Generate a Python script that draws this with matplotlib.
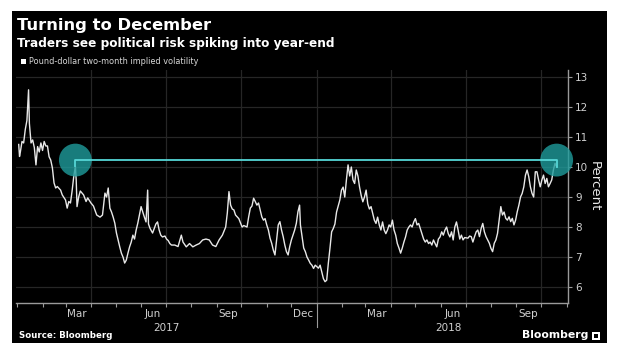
import matplotlib
matplotlib.use("Agg")
import matplotlib.pyplot as plt
import matplotlib.dates as mdates
import matplotlib.transforms as mtransforms
from matplotlib.patches import Rectangle
import pandas as pd
import numpy as np

# ---------------- data ----------------
# days since 2017-01-01
days = [2, 3, 4, 6, 8, 10, 12, 14, 15, 17, 19, 21, 23, 25, 27, 29, 31, 33, 35, 37, 39, 41, 43, 45, 47, 49,
        53, 55, 59, 61, 63, 65, 67, 69, 71, 72, 73, 75, 77, 81, 84, 86, 90,
        93, 97, 101, 104, 107, 109, 111, 113, 115, 117, 119, 121, 123, 125, 127, 129, 131, 133, 135, 137,
        139, 141, 143, 145, 147, 149, 151, 153, 155, 157, 159, 160, 162, 165, 167, 169, 171, 173, 175, 177,
        180, 182, 184, 186, 188, 192, 196, 200, 202, 206, 210, 214, 218, 222, 226, 230, 234, 238, 242, 246,
        250, 254, 256, 258, 260, 262, 264, 266, 270, 274,
        276, 280, 282, 284, 286, 288, 290, 292, 294, 296, 298, 300, 302, 304, 306, 308, 310, 312, 314, 316,
        318, 320, 322, 324, 326, 328, 330, 332, 334, 336, 338, 340, 342, 344, 345, 347, 349, 351, 353, 355,
        357, 359, 361, 363, 365, 367, 369,
        371, 373, 375, 377, 379, 381, 383, 385, 387, 389, 391, 393, 395, 397, 399, 401, 403, 405, 407, 409,
        411, 413, 415, 417, 419, 421, 423, 425, 427, 429, 431, 433, 435, 437, 439, 441, 443, 445, 447, 449,
        451, 453, 455, 457, 459, 461, 463, 465, 467, 469, 471, 473, 475, 477, 479, 481, 483, 485, 487, 489,
        491, 493, 495, 497, 499, 501, 503, 505, 507, 509, 511, 513, 515, 517, 519, 521, 523, 525, 527, 529,
        531, 533, 535, 537, 539, 541, 543, 545, 549, 551, 553, 555, 557, 559, 561, 563, 565, 567, 569, 571,
        573, 575, 577, 579, 581, 583, 585, 587, 589, 591, 593, 595, 597, 599, 601, 603, 605, 607, 609, 611,
        613, 615, 617, 619, 621, 623, 625, 627, 629, 631, 633, 635, 637, 639, 641, 643, 645, 647, 649, 651,
        653, 655, 657]

vol = [10.75, 10.35, 10.5, 10.85, 10.8, 11.25, 11.55, 12.57, 11.45, 10.8, 10.9, 10.65, 10.07, 10.68, 10.5,
       10.8, 10.55, 10.85, 10.7, 10.7, 10.34, 10.23, 9.97, 9.47, 9.3, 9.35,
       9.23, 9.07, 8.9, 8.63, 8.85, 8.8, 9.2, 9.68, 10.02, 9.57, 8.68, 9.0, 9.2, 9.07, 8.85, 8.97, 8.8,
       8.7, 8.4, 8.33, 8.4, 9.13, 9.0, 9.3, 8.63, 8.5, 8.33, 8.13, 7.8, 7.57, 7.34, 7.13, 7.0, 6.8, 6.9,
       7.13, 7.34, 7.5, 7.73, 7.6, 7.9, 8.13, 8.4, 8.68, 8.5, 8.33, 8.17, 9.23, 8.1, 7.95, 7.8, 7.95, 8.1,
       8.17, 7.9, 7.73, 7.67,
       7.7, 7.6, 7.55, 7.45, 7.4, 7.4, 7.35, 7.73, 7.5, 7.34, 7.45, 7.34, 7.4, 7.45, 7.57, 7.6, 7.57, 7.4,
       7.35, 7.57, 7.73, 8.0, 8.47, 9.18, 8.73, 8.6, 8.57, 8.4, 8.28, 8.0,
       8.05, 8.0, 8.34, 8.63, 8.7, 8.96, 8.85, 8.73, 8.8, 8.57, 8.34, 8.23, 8.28, 8.07, 7.9, 7.63, 7.46,
       7.23, 7.07, 7.57, 8.07, 8.18, 7.9, 7.68, 7.4, 7.18, 7.07, 7.35, 7.57, 7.73, 7.9, 8.12, 8.51, 8.73,
       8.07, 7.68, 7.3, 7.18, 7.0, 6.9, 6.79, 6.73, 6.62, 6.73, 6.68, 6.63, 6.73,
       6.5, 6.28, 6.18, 6.23, 6.8, 7.3, 7.84, 7.95, 8.1, 8.5, 8.7, 8.9, 9.23, 9.33, 9.0, 9.57, 10.07, 9.7,
       10.0, 9.57, 9.45, 9.9, 9.7, 9.33, 9.05, 8.84, 9.0, 9.23, 8.77, 8.6, 8.68, 8.45, 8.23, 8.12, 8.33,
       8.07, 7.9, 8.17, 7.9, 7.78, 7.9, 8.07, 8.0, 8.23, 7.9, 7.73, 7.45, 7.3, 7.13, 7.3, 7.5, 7.67, 7.9,
       8.0, 8.07, 8.0, 8.17, 8.28, 8.07, 8.12, 7.95, 7.78, 7.6, 7.5, 7.57, 7.45, 7.5, 7.4, 7.57, 7.45, 7.34,
       7.6, 7.67, 7.84, 7.73, 7.9, 8.0, 7.78, 7.67, 7.84, 7.57, 8.0, 8.17, 7.9, 7.6, 7.73, 7.57, 7.65,
       7.63, 7.7, 7.68, 7.5, 7.68, 7.84, 7.9, 7.68, 7.95, 8.12, 7.84, 7.68, 7.57, 7.46, 7.29, 7.18, 7.46,
       7.57, 7.79, 8.23, 8.68, 8.4, 8.5, 8.29, 8.23, 8.34, 8.18, 8.29, 8.07, 8.23, 8.51, 8.73, 9.0, 9.12,
       9.34, 9.73, 9.9, 9.68, 9.34, 9.12, 9.0, 9.84, 9.84, 9.57, 9.34, 9.57, 9.73, 9.45, 9.62, 9.34, 9.45,
       9.57, 9.9, 10.12, 10.0]

highlight_days = [71, 657]      # the two circled peaks
highlight_level = 10.23         # horizontal reference level

y_ticks = [6, 7, 8, 9, 10, 11, 12, 13]
month_labels = ["Mar", "Jun", "Sep", "Dec", "Mar", "Jun", "Sep"]
month_label_dates = ["2017-03-15", "2017-06-15", "2017-09-15", "2017-12-15",
                     "2018-03-15", "2018-06-15", "2018-09-15"]
quarter_lines = ["2017-04-01", "2017-07-01", "2017-10-01", "2018-01-01",
                 "2018-04-01", "2018-07-01", "2018-10-01"]
year_labels = ["2017", "2018"]
year_label_dates = ["2017-07-02", "2018-06-10"]

title = "Turning to December"
subtitle = "Traders see political risk spiking into year-end"
legend_label = "Pound-dollar two-month implied volatility"

# ---------------- figure ----------------
W, H = 620, 355
fig = plt.figure(figsize=(W / 100, H / 100), dpi=100, facecolor="white")


def fx(px):
    return px / W


def fy(py):
    return 1 - py / H


fig.patches.append(Rectangle((fx(12), fy(343)), fx(595), 332 / H, transform=fig.transFigure,
                             facecolor="black", edgecolor="none", zorder=-10))

ax = fig.add_axes([fx(16), fy(303), fx(568 - 16), (303 - 70) / H])
ax.set_zorder(5)
ax.set_facecolor("black")

base = pd.Timestamp("2017-01-01")
dates = base + pd.to_timedelta(days, unit="D")
hl_dates = base + pd.to_timedelta(highlight_days, unit="D")

x0 = mdates.date2num(base)
ax.set_xlim(x0 - 1.3, x0 + 670.8)
ax.set_ylim(5.47, 13.23)

grid_c = "#262626"
for v in y_ticks:
    ax.axhline(v, color=grid_c, lw=0.9, zorder=1)
for d in quarter_lines:
    ax.axvline(pd.Timestamp(d), color=grid_c, lw=0.9, zorder=1)

ax.plot(dates, vol, color="#e8e8e8", lw=1.0, zorder=2)

# highlight circles and connecting line
ax.scatter(hl_dates, [highlight_level] * 2, s=560, color="#1f9c9c", alpha=0.8,
           edgecolors="none", zorder=3, clip_on=False)
v_left = vol[days.index(highlight_days[0])]
v_right = vol[days.index(highlight_days[1])]
ax.plot([hl_dates[0], hl_dates[0], hl_dates[1], hl_dates[1]],
        [v_left, highlight_level, highlight_level, v_right],
        color="#55d6d6", lw=1.3, zorder=4)

# spines
for s in ["top", "left"]:
    ax.spines[s].set_visible(False)
ax.spines["bottom"].set_color("#9a9a9a")
ax.spines["right"].set_color("#9a9a9a")
ax.spines["bottom"].set_linewidth(1.0)
ax.spines["right"].set_linewidth(1.0)

# y axis on the right
ax.yaxis.tick_right()
ax.set_yticks(y_ticks)
ax.set_yticklabels([str(v) for v in y_ticks])
ax.tick_params(axis="y", colors="#9a9a9a", labelcolor="#d0d0d0", labelsize=7.5,
               length=3, width=0.8, pad=2)
ax.yaxis.set_label_position("right")
ax.set_ylabel("Percent", rotation=270, color="#e8e8e8", fontsize=9.5, labelpad=9)

# x axis
ax.set_xticks([pd.Timestamp(d) for d in month_label_dates])
ax.set_xticklabels(month_labels)
ax.xaxis.set_minor_locator(mdates.MonthLocator())
ax.tick_params(axis="x", which="major", length=0, labelcolor="#d0d0d0", labelsize=7.5, pad=4)
ax.tick_params(axis="x", which="minor", length=3, color="#9a9a9a", width=0.8)

trans = mtransforms.blended_transform_factory(ax.transData, ax.transAxes)
for lab, d in zip(year_labels, year_label_dates):
    ax.text(pd.Timestamp(d), -0.085, lab, transform=trans, ha="center", va="top",
            color="#d0d0d0", fontsize=7.5)
ax.plot([pd.Timestamp("2018-01-01")] * 2, [0, -0.103], transform=trans, color="#9a9a9a",
        lw=0.8, clip_on=False)

# titles
fig.text(fx(17), fy(30), title, color="white", fontsize=11.8, fontweight="bold", va="baseline")
fig.text(fx(17), fy(46.5), subtitle, color="white", fontsize=8.7, fontweight="bold", va="baseline")
fig.patches.append(Rectangle((fx(21), fy(63.5)), fx(5), 5 / H, transform=fig.transFigure,
                             facecolor="white", edgecolor="none"))
fig.text(fx(29), fy(61), legend_label, color="#d8d8d8", fontsize=5.85, va="center")

fig.text(fx(19), fy(336), "Source: Bloomberg", color="white", fontsize=6.2, fontweight="bold",
         va="center")
fig.text(fx(588), fy(335), "Bloomberg", color="white", fontsize=7.8, fontweight="bold",
         va="center", ha="right")
fig.patches.append(Rectangle((fx(592), fy(339.5)), fx(8), 8 / H, transform=fig.transFigure,
                             facecolor="white", edgecolor="none"))
fig.patches.append(Rectangle((fx(594), fy(337.5)), fx(4), 4 / H, transform=fig.transFigure,
                             facecolor="black", edgecolor="none"))

fig.savefig("out.png", dpi=100, facecolor="white")
